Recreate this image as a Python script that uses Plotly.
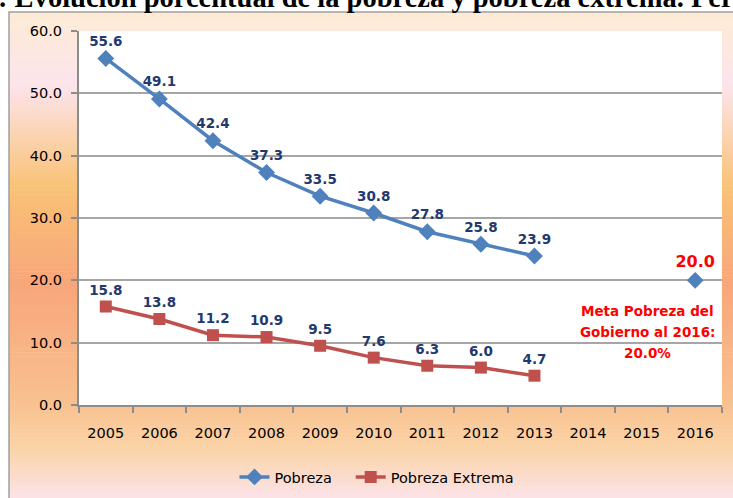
"""Evolución porcentual de la pobreza y pobreza extrema (Plotly)"""

import plotly.graph_objects as go

# Datos
YEARS = [str(y) for y in range(2005, 2017)]
POBREZA_YEARS = ["2005", "2006", "2007", "2008", "2009", "2010", "2011", "2012", "2013"]
POBREZA = [55.6, 49.1, 42.4, 37.3, 33.5, 30.8, 27.8, 25.8, 23.9]
POBREZA_EXTREMA = [15.8, 13.8, 11.2, 10.9, 9.5, 7.6, 6.3, 6.0, 4.7]
META_YEAR = ["2016"]
META = [20.0]
Y_TICKS = [0, 10, 20, 30, 40, 50, 60]

TITLE = ": Evolución porcentual de la pobreza y pobreza extrema. Perú 2005 - 2016"
META_LINES = ["Meta Pobreza del", "Gobierno al 2016:", "20.0%"]

BLUE = "#4F81BD"
RED = "#C0504D"
NAVY = "#1F3A6E"
GRID = "#A6A6A6"
AXIS = "#8C8C8C"
FONT = "DejaVu Sans"
NBSP = "\u00a0"

# Márgenes en píxeles (área de trazado 79..722 x 31..405)
W, H = 733, 498
ML, MR, MT, MB = 79, 11, 31, 93
PW, PH = W - ML - MR, H - MT - MB


def px_x(x):
    return (x - ML) / PW


def px_y(y):
    return (H - MB - y) / PH


# Degradado vertical del fondo del gráfico (posición 0..1, color)
GRADIENT = [
    (0.00, (253, 235, 212)),
    (0.15, (252, 228, 236)),
    (0.36, (249, 194, 118)),
    (0.56, (248, 166, 123)),
    (0.80, (249, 192, 143)),
    (0.90, (250, 212, 168)),
    (1.00, (252, 227, 232)),
]


def _grad_color(t):
    for (t0, c0), (t1, c1) in zip(GRADIENT, GRADIENT[1:]):
        if t0 <= t <= t1:
            f = (t - t0) / (t1 - t0)
            c = [round(a + (b - a) * f) for a, b in zip(c0, c1)]
            return f"rgb({c[0]},{c[1]},{c[2]})"
    return "rgb(252,227,232)"


shapes = []
box_top, box_bottom, box_left = 12, 498, 9
n = 120
step = (box_bottom - box_top) / n
for i in range(n):
    y0 = box_top + i * step
    shapes.append(dict(
        type="rect", xref="paper", yref="paper", layer="below",
        x0=px_x(box_left), x1=px_x(W + 5), y0=px_y(y0 + step + 0.6), y1=px_y(y0),
        fillcolor=_grad_color((i + 0.5) / n), line=dict(width=0),
    ))
# borde del gráfico
shapes.append(dict(
    type="rect", xref="paper", yref="paper", layer="below",
    x0=px_x(box_left), x1=px_x(W + 5), y0=px_y(box_bottom + 5), y1=px_y(box_top),
    fillcolor="rgba(0,0,0,0)", line=dict(color="#A0A0A0", width=1.5),
))
# fondo blanco del área de trazado
shapes.append(dict(
    type="rect", xref="paper", yref="paper", layer="below",
    x0=0, x1=1, y0=0, y1=1, fillcolor="white", line=dict(width=0),
))

fig = go.Figure()
fig.add_trace(go.Scatter(
    x=POBREZA_YEARS, y=POBREZA, name="Pobreza" + NBSP * 3,
    mode="lines+markers+text",
    line=dict(color=BLUE, width=3.5),
    marker=dict(symbol="diamond", size=13, color=BLUE),
    text=[f"{v:.1f}" for v in POBREZA], textposition="top center",
    textfont=dict(family=FONT, size=13.5, color=NAVY, weight="bold"),
    cliponaxis=False,
))
fig.add_trace(go.Scatter(
    x=POBREZA_YEARS, y=POBREZA_EXTREMA, name="Pobreza Extrema",
    mode="lines+markers+text",
    line=dict(color=RED, width=3.5),
    marker=dict(symbol="square", size=12, color=RED),
    text=[f"{v:.1f}" for v in POBREZA_EXTREMA], textposition="top center",
    textfont=dict(family=FONT, size=13.5, color=NAVY, weight="bold"),
    cliponaxis=False,
))
fig.add_trace(go.Scatter(
    x=META_YEAR, y=META, name="Meta",
    mode="markers+text", showlegend=False,
    marker=dict(symbol="diamond", size=13, color=BLUE),
    text=[f"{v:.1f}" for v in META], textposition="top center",
    textfont=dict(family=FONT, size=16, color="#FF0000", weight="bold"),
    cliponaxis=False,
))

annotations = [
    dict(
        text=TITLE, xref="paper", yref="paper", x=px_x(-4), y=px_y(15.5),
        xanchor="left", yanchor="bottom", showarrow=False,
        font=dict(family="Liberation Serif", size=28.5, color="black", weight="bold"),
    ),
]
for i, line in enumerate(META_LINES):
    annotations.append(dict(
        text=line, xref="paper", yref="paper", x=px_x(647), y=px_y(311 + 21 * i),
        xanchor="center", yanchor="middle", showarrow=False,
        font=dict(family=FONT, size=13.5, color="#FF0000", weight="bold"),
    ))

fig.update_layout(
    width=W, height=H,
    margin=dict(l=ML, r=MR, t=MT, b=MB, autoexpand=False),
    paper_bgcolor="white",
    plot_bgcolor="rgba(0,0,0,0)",
    font=dict(family=FONT, size=14.5, color="black"),
    shapes=shapes,
    annotations=annotations,
    showlegend=True,
    legend=dict(
        orientation="h", xanchor="center", yanchor="middle",
        x=px_x(377), y=px_y(477), bgcolor="rgba(0,0,0,0)",
        font=dict(family=FONT, size=14.5, color="black"),
        itemwidth=30,
    ),
    xaxis=dict(
        type="category", categoryorder="array", categoryarray=YEARS,
        range=[-0.5, len(YEARS) - 0.5], automargin=False,
        showgrid=False, showline=True, linecolor=AXIS, linewidth=2,
        ticks="outside", tickson="boundaries", ticklen=6, tickcolor=AXIS, tickwidth=1.5,
        ticklabelstandoff=14, tickfont=dict(family=FONT, size=14.5, color="black"),
    ),
    yaxis=dict(
        range=[0, 60], tickvals=Y_TICKS, tickformat=".1f", automargin=False,
        showgrid=True, gridcolor=GRID, gridwidth=1.5, zeroline=False,
        showline=True, linecolor=AXIS, linewidth=2,
        ticks="outside", ticklen=6, tickcolor=AXIS, tickwidth=1.5,
        ticklabelstandoff=6, tickfont=dict(family=FONT, size=14.5, color="black"),
    ),
)

# la página sin margen del body, para que el gráfico empiece en (0, 0)
fig.write_html(
    "out.html",
    config={"displayModeBar": False},
    post_script="document.body.style.margin = '0';",
)
